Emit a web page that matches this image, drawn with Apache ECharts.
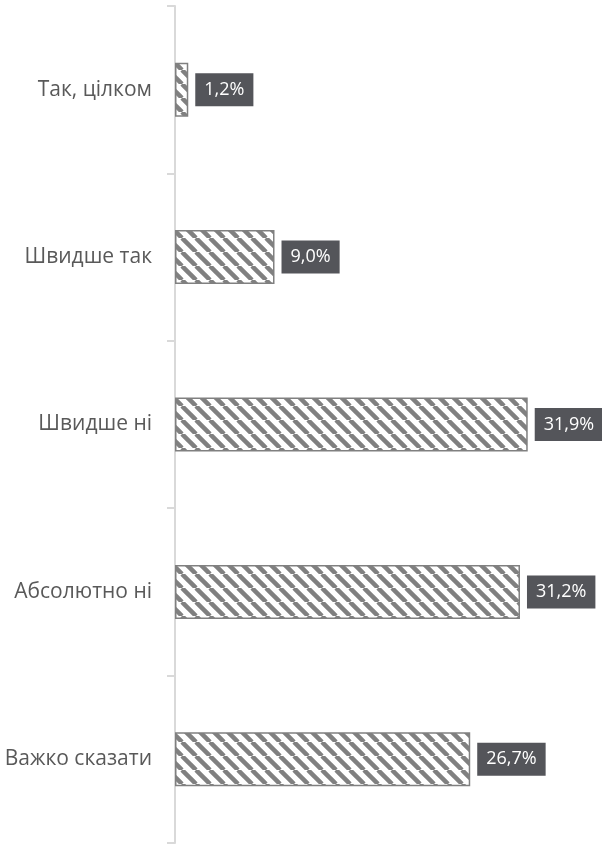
<!DOCTYPE html>
<html>
<head>
<meta charset="utf-8">
<script src="https://cdn.jsdelivr.net/npm/echarts@6/dist/echarts.min.js"></script>
<style>
html,body{margin:0;padding:0;background:#fff;}
#chart{width:602px;height:845px;}
</style>
</head>
<body>
<div id="chart"></div>
<script>
const categories = ['Так, цілком', 'Швидше так', 'Швидше ні', 'Абсолютно ні', 'Важко сказати'];
const values = [1.2, 9.0, 31.9, 31.2, 26.7];

function makePattern() {
  const s = 14;
  const c = document.createElement('canvas');
  c.width = s; c.height = s;
  const ctx = c.getContext('2d');
  ctx.fillStyle = '#ffffff';
  ctx.fillRect(0, 0, s, s);
  ctx.strokeStyle = '#808080';
  ctx.lineWidth = 4.5;
  [-s, 0, s].forEach(o => {
    ctx.beginPath();
    ctx.moveTo(o, 0);
    ctx.lineTo(o + s, s);
    ctx.stroke();
  });
  return c;
}

const chart = echarts.init(document.getElementById('chart'), null, {renderer: 'canvas'});
chart.setOption({
  animation: false,
  grid: {left: 175, width: 387, top: 6, bottom: 2, containLabel: false},
  xAxis: {type: 'value', min: 0, max: 35, show: false},
  yAxis: {
    type: 'category', data: categories, inverse: true,
    axisLine: {show: true, lineStyle: {color: '#d9d9d9', width: 2}},
    axisTick: {show: true, length: 8, lineStyle: {color: '#d9d9d9', width: 2}},
    axisLabel: {margin: 23, color: '#595959', fontSize: 21, fontFamily: 'Open Sans'}
  },
  series: [{
    type: 'bar', data: values, barWidth: 54,
    itemStyle: {
      color: {image: makePattern(), repeat: 'repeat'},
      borderColor: '#808080', borderWidth: 1.5
    },
    label: {
      show: true, position: 'right', distance: 7,
      formatter: p => p.value.toFixed(1).replace('.', ',') + '%',
      color: '#ffffff', backgroundColor: '#54555a',
      lineHeight: 19, padding: [7, 9, 7, 9], fontSize: 18, fontFamily: 'Open Sans'
    }
  }]
});
</script>
</body>
</html>
